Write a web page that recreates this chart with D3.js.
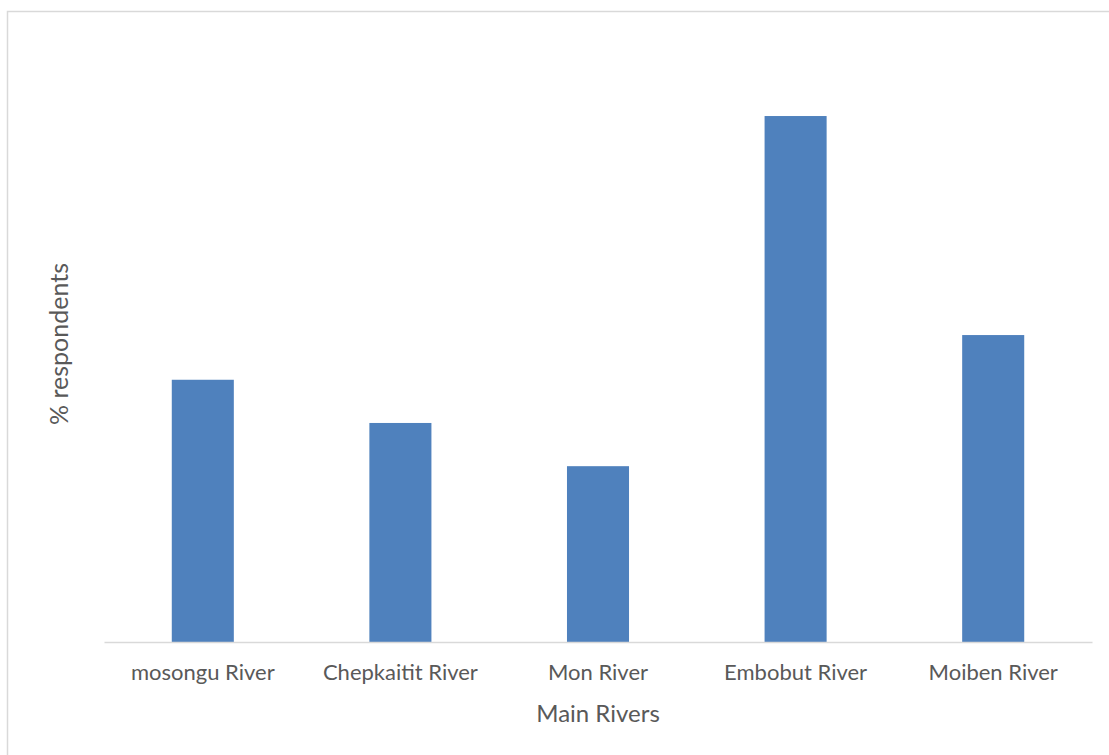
<!DOCTYPE html>
<html><head><meta charset="utf-8">
<script src="https://cdn.jsdelivr.net/npm/d3@7"></script>
<style>body{margin:0;background:#fff;}svg{display:block;}</style>
</head><body>
<svg id="c" width="1109" height="755"></svg>
<script>
const categories = ["mosongu River","Chepkaitit River","Mon River","Embobut River","Moiben River"];
const values = [17.6, 14.7, 11.8, 35.3, 20.6];
const xTitle = "Main Rivers";
const yTitle = "% respondents";

const svg = d3.select("#c");
svg.append("rect").attr("x",7.5).attr("y",11.5).attr("width",1200).attr("height",800)
  .attr("fill","#fff").attr("stroke","#d9d9d9").attr("stroke-width",1.5);

const m = {left:104, right:1092, top:46, bottom:642};
const x = d3.scaleBand().domain(categories).range([m.left,m.right]).paddingInner(0.686).paddingOuter(0.343);
const y = d3.scaleLinear().domain([0, 40]).range([m.bottom, m.top]);

svg.selectAll("rect.bar").data(values).join("rect").attr("class","bar")
  .attr("x",(d,i)=>x(categories[i])).attr("width",x.bandwidth())
  .attr("y",d=>y(d)).attr("height",d=>y(0)-y(d)).attr("fill","#4f81bd");

const ax = d3.axisBottom(x).tickSize(0).tickPadding(22);
const g = svg.append("g").attr("transform",`translate(0,${m.bottom})`).call(ax);
g.select(".domain").attr("stroke","#d9d9d9").attr("stroke-width",1.5);
g.selectAll("text").attr("fill","#595959").style("font-family","Lato, 'Open Sans', sans-serif").style("font-size","22px");

svg.append("text").attr("x",(m.left+m.right)/2).attr("y",722).attr("text-anchor","middle")
  .attr("fill","#595959").style("font-family","Lato, 'Open Sans', sans-serif").style("font-size","24px").text(xTitle);
svg.append("text").attr("transform","translate(68,344) rotate(-90)").attr("text-anchor","middle")
  .attr("fill","#595959").style("font-family","Lato, 'Open Sans', sans-serif").style("font-size","25px").text(yTitle);
</script>
</body></html>
